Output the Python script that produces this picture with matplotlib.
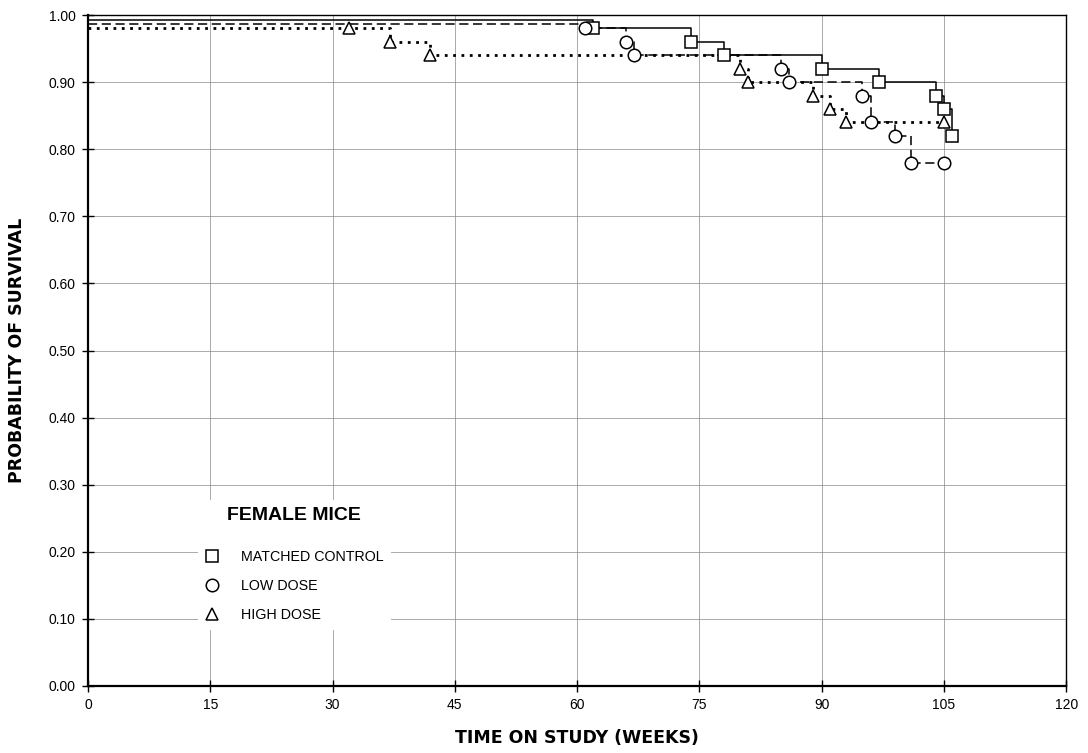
import matplotlib
matplotlib.use("Agg")
import matplotlib.pyplot as plt
from matplotlib.lines import Line2D

plt.rcParams["font.family"] = ["Liberation Sans", "DejaVu Sans"]

# ---------- data ----------
control_weeks = [0, 62, 74, 78, 90, 97, 104, 105, 106]
control_surv = [0.993, 0.98, 0.96, 0.94, 0.92, 0.90, 0.88, 0.86, 0.82]

low_weeks = [0, 61, 66, 67, 85, 86, 95, 96, 99, 101, 105]
low_surv = [0.987, 0.98, 0.96, 0.94, 0.92, 0.90, 0.88, 0.84, 0.82, 0.78, 0.78]

high_weeks = [0, 32, 37, 42, 80, 81, 89, 91, 93, 105]
high_surv = [0.98, 0.98, 0.96, 0.94, 0.92, 0.90, 0.88, 0.86, 0.84, 0.84]

x_ticks = [0, 15, 30, 45, 60, 75, 90, 105, 120]
y_ticks = [0.0, 0.1, 0.2, 0.3, 0.4, 0.5, 0.6, 0.7, 0.8, 0.9, 1.0]

series = [
    ("MATCHED CONTROL", control_weeks, control_surv, "-", "s", 1.1),
    ("LOW DOSE", low_weeks, low_surv, (0, (6, 3)), "o", 1.1),
    ("HIGH DOSE", high_weeks, high_surv, (0, (1, 2)), "^", 2.0),
]

fig = plt.figure(figsize=(10.88, 7.53), dpi=100)
ax = fig.add_axes([0.0809, 0.089, 0.899, 0.891])

ax.set_xlim(0, 120)
ax.set_ylim(0, 1.0)
ax.set_xticks(x_ticks)
ax.set_yticks(y_ticks)
ax.set_yticklabels([f"{v:.2f}" for v in y_ticks])
ax.grid(True, color="#888888", lw=0.5)
ax.set_axisbelow(True)

for label, wk, sv, ls, mk, lw in series:
    ax.step(wk, sv, where="post", color="black", lw=lw, ls=ls, zorder=3)
    ax.plot(wk[1:], sv[1:], ls="none", marker=mk, ms=9, mfc="white",
            mec="black", mew=1.1, zorder=4)

for side in ["left", "bottom"]:
    ax.spines[side].set_linewidth(1.6)
for side in ["top", "right"]:
    ax.spines[side].set_linewidth(1.0)

ax.tick_params(direction="inout", length=8, width=1.0, labelsize=10, pad=5)
ax.set_xlabel("TIME ON STUDY (WEEKS)", fontsize=12.5, fontweight="bold",
              family="DejaVu Sans", labelpad=12)
ax.set_ylabel("PROBABILITY OF SURVIVAL", fontsize=12.5, fontweight="bold",
              family="DejaVu Sans", labelpad=16)

handles = [Line2D([], [], ls="none", marker=s[4], ms=9, mfc="white", mec="black", mew=1.1)
           for s in series]
leg = ax.legend(handles, [s[0] for s in series], title="FEMALE MICE",
                loc="upper left", bbox_to_anchor=(0.105, 0.288),
                frameon=True, facecolor="white", edgecolor="none", framealpha=1,
                fontsize=10.3, labelspacing=1.05, handletextpad=1.5, handlelength=1.0,
                borderpad=0.5)
leg.get_title().set_fontweight("bold")
leg.get_title().set_fontsize(14)
leg._legend_box.sep = 19
leg.set_zorder(5)

fig.savefig("out.png", dpi=100)
